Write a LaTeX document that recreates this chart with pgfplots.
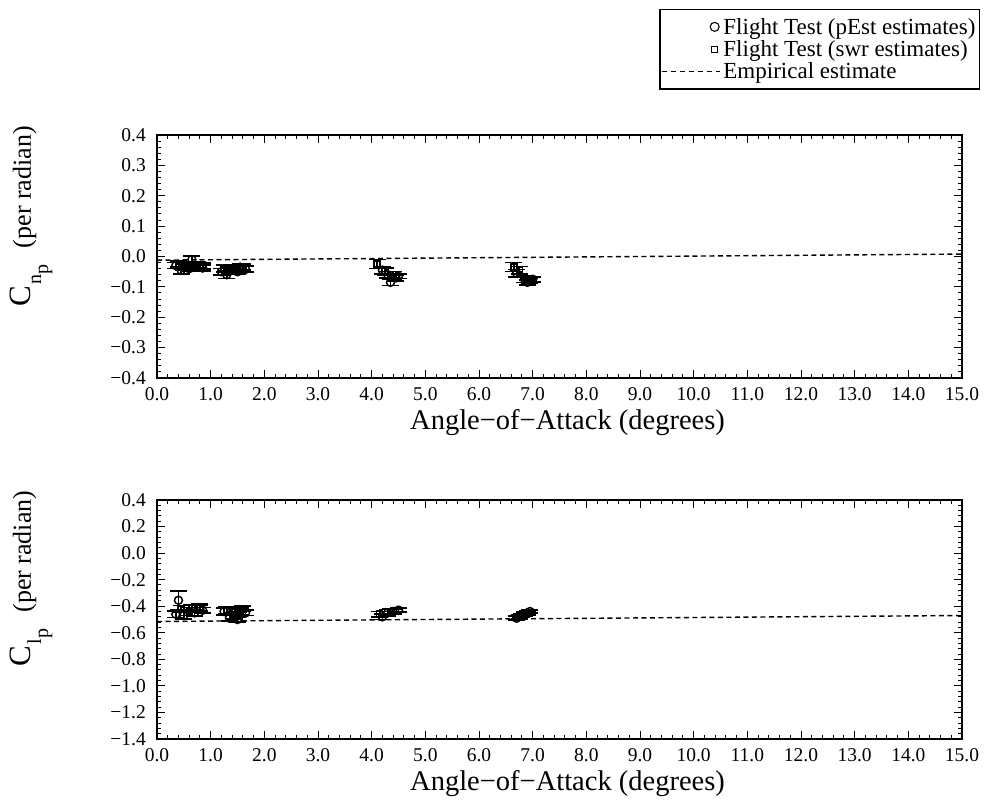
\documentclass[border=0pt]{standalone}
\usepackage{fontspec}
\setmainfont{Liberation Serif}
\usepackage{pgfplots}
\usepackage{pgfplotstable}
\pgfplotsset{compat=1.18}

% Yawing-moment derivative due to roll rate
\pgfplotstableread{
a c e
0.35 -0.030 0.010
0.45 -0.045 0.012
0.50 -0.035 0.010
0.60 -0.040 0.008
0.65 -0.010 0.012
0.70 -0.030 0.010
0.80 -0.035 0.008
0.85 -0.038 0.010
1.20 -0.050 0.010
1.30 -0.060 0.012
1.35 -0.045 0.010
1.45 -0.040 0.010
1.50 -0.050 0.008
1.55 -0.035 0.010
1.65 -0.042 0.010
4.20 -0.045 0.012
4.30 -0.060 0.010
4.35 -0.085 0.010
4.45 -0.070 0.010
4.50 -0.065 0.008
6.70 -0.055 0.012
6.85 -0.075 0.010
6.90 -0.085 0.008
7.00 -0.075 0.008
}\cnpPest
\pgfplotstableread{
a c e
0.40 -0.025 0.010
0.55 -0.030 0.012
0.75 -0.028 0.010
0.85 -0.032 0.010
1.25 -0.040 0.012
1.40 -0.038 0.010
1.60 -0.035 0.010
4.10 -0.025 0.015
4.25 -0.050 0.012
4.40 -0.060 0.010
6.65 -0.035 0.015
6.75 -0.045 0.012
6.95 -0.080 0.008
}\cnpSwr
% Rolling-moment derivative due to roll rate
\pgfplotstableread{
a c e
0.35 -0.460 0.025
0.40 -0.355 0.070
0.50 -0.470 0.025
0.60 -0.440 0.030
0.70 -0.450 0.025
0.80 -0.420 0.025
0.85 -0.430 0.020
1.25 -0.440 0.025
1.35 -0.490 0.020
1.45 -0.470 0.025
1.50 -0.500 0.020
1.55 -0.440 0.025
1.65 -0.450 0.020
4.20 -0.480 0.020
4.30 -0.450 0.025
4.40 -0.440 0.020
4.50 -0.430 0.015
6.70 -0.490 0.015
6.80 -0.470 0.015
6.90 -0.450 0.015
6.95 -0.440 0.010
}\clpPest
\pgfplotstableread{
a c e
0.45 -0.420 0.025
0.65 -0.410 0.020
0.80 -0.410 0.025
1.30 -0.430 0.025
1.45 -0.440 0.020
1.60 -0.420 0.020
4.15 -0.460 0.020
4.35 -0.440 0.020
6.75 -0.480 0.015
6.85 -0.460 0.015
}\clpSwr

\pgfplotsset{
  rollaxis/.style={
    scale only axis, anchor=south west, width=805pt,
    xmin=0, xmax=15,
    xtick={0,1,...,15},
    xticklabels={0.0,1.0,2.0,3.0,4.0,5.0,6.0,7.0,8.0,9.0,10.0,11.0,12.0,13.0,14.0,15.0},
    minor x tick num=4, minor y tick num=4,
    major tick length=8pt, minor tick length=4pt,
    tick style={line width=1pt, black},
    axis line style={line width=1.4pt},
    tick label style={font=\fontsize{19.5}{19.5}\selectfont, inner sep=0pt},
    xticklabel style={yshift=-9pt},
    yticklabel style={xshift=-11pt},
    xlabel={Angle−of−Attack (degrees)},
    x label style={font=\fontsize{28.5}{28.5}\selectfont, at={(axis description cs:0.51,0)}, anchor=north, yshift=-31pt, inner sep=0pt},
  },
  flighterr/.style={
    error bars/y dir=both, error bars/y explicit,
    error bars/error bar style={line width=1.6pt, black},
    error bars/error mark options={rotate=90, mark size=8.5pt, line width=1.6pt, black}},
  pest/.style={only marks, black, mark=o, mark size=4pt, line width=1.5pt, flighterr},
  swr/.style={only marks, black, mark=square, mark size=3pt, line width=1.5pt, flighterr},
  empirical/.style={black, line width=1.4pt, dash pattern=on 5pt off 3.5pt},
}

\begin{document}
\begin{tikzpicture}
\useasboundingbox (0pt,0pt) rectangle (984pt,801pt);

\begin{axis}[rollaxis, at={(157pt,423pt)}, height=243pt,
  ymin=-0.4, ymax=0.4,
  ytick={-0.4,-0.3,-0.2,-0.1,0,0.1,0.2,0.3,0.4},
  yticklabels={−0.4,−0.3,−0.2,−0.1,0.0,0.1,0.2,0.3,0.4},
  legend style={at={(axis description cs:1.0224,1.5185)}, anchor=north east,
    draw=black, line width=1.2pt, fill=white,
    font=\fontsize{23}{23}\selectfont,
    inner xsep=1pt, inner ysep=8pt, row sep=4pt,
    nodes={inner xsep=3pt, inner ysep=0.5pt}},
  legend cell align=left,
]
\addplot+[pest, legend image code/.code={
    \path (0pt,0pt) (58pt,0pt);
    \draw[black, line width=1.1pt] plot[mark=o, mark size=4.5pt] coordinates {(53pt,0pt)};}]
  table[x=a, y=c, y error=e] {\cnpPest};
\addlegendentry{Flight Test (pEst estimates)}
\addplot+[swr, legend image code/.code={
    \path (0pt,0pt) (58pt,0pt);
    \draw[black, line width=0.9pt] plot[mark=square, mark size=3.2pt] coordinates {(53pt,0pt)};}]
  table[x=a, y=c, y error=e] {\cnpSwr};
\addlegendentry{Flight Test (swr estimates)}
\addplot[empirical, legend image code/.code={
    \draw[black, line width=1.2pt, dash pattern=on 5pt off 4pt] (0pt,0pt) -- (58pt,0pt);}]
  coordinates {(0,-0.012) (15,0.008)};
\addlegendentry{Empirical estimate}
\end{axis}

\begin{axis}[rollaxis, at={(157pt,62pt)}, height=239pt,
  ymin=-1.4, ymax=0.4,
  ytick={-1.4,-1.2,-1.0,-0.8,-0.6,-0.4,-0.2,0,0.2,0.4},
  yticklabels={−1.4,−1.2,−1.0,−0.8,−0.6,−0.4,−0.2,0.0,0.2,0.4},
]
\addplot+[pest] table[x=a, y=c, y error=e] {\clpPest};
\addplot+[swr] table[x=a, y=c, y error=e] {\clpSwr};
\addplot[empirical] coordinates {(0,-0.515) (15,-0.47)};
\end{axis}

% rotated axis titles
\node[rotate=90, anchor=base west, inner sep=0pt] at (31pt,494pt)
  {\fontsize{31}{31}\selectfont C\raisebox{-10pt}{\fontsize{20}{20}\selectfont\hspace{2pt}n\raisebox{-7pt}{p}}\hspace{16pt}{\fontsize{26}{26}\selectfont (per radian)}};
\node[rotate=90, anchor=base west, inner sep=0pt] at (31pt,134pt)
  {\fontsize{31}{31}\selectfont C\raisebox{-10pt}{\fontsize{20}{20}\selectfont\hspace{2pt}l\raisebox{-7pt}{p}}\hspace{16pt}{\fontsize{26}{26}\selectfont (per radian)}};
\end{tikzpicture}
\end{document}
